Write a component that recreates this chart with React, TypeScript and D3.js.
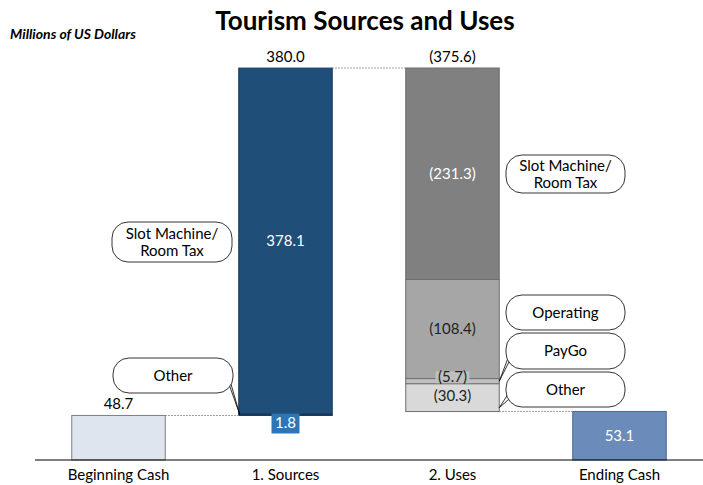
import * as d3 from 'd3';
import React, { useEffect, useRef } from 'react';

const categories = ['Beginning Cash', '1. Sources', '2. Uses', 'Ending Cash'];
const beginningCash = 48.7;
const sourceNames = ['Other', 'Slot Machine/ Room Tax'];
const sourceValues = [1.8, 378.1];
const sourcesTotal = 380.0;
const useNames = ['Slot Machine/ Room Tax', 'Operating', 'PayGo', 'Other'];
const useValues = [231.3, 108.4, 5.7, 30.3];
const usesTotal = 375.6;
const endingCash = 53.1;

const FONT = 'Lato, "Open Sans", sans-serif';

export default function App() {
  const svgRef = useRef<SVGSVGElement>(null);
  const width = 703;
  const height = 485;

  useEffect(() => {
    const svg = d3.select(svgRef.current);
    svg.selectAll('*').remove();

    const peak = beginningCash + sourcesTotal;

    const x = d3.scaleBand().domain(categories).range([35, 703]).padding(0);
    const barW = x.bandwidth() * 0.56;
    const y = d3.scaleLinear().domain([0, peak]).range([460, 68]);
    const cx = (c: string) => (x(c) as number) + x.bandwidth() / 2;

    // title
    svg.append('text').attr('x', 365).attr('y', 30).attr('text-anchor', 'middle')
      .attr('font-family', FONT).attr('font-weight', 'bold').attr('font-size', 26)
      .text('Tourism Sources and Uses');
    svg.append('text').attr('x', 10).attr('y', 39)
      .attr('font-family', FONT).attr('font-weight', 'bold').attr('font-style', 'italic')
      .attr('font-size', 14).text('Millions of US Dollars');

    // beginning cash
    const bx = cx(categories[0]) - barW / 2;
    svg.append('rect').attr('x', bx).attr('y', y(beginningCash)).attr('width', barW)
      .attr('height', y(0) - y(beginningCash)).attr('fill', '#DEE5EF').attr('stroke', '#7f7f7f');
    svg.append('text').attr('x', cx(categories[0])).attr('y', y(beginningCash) - 6)
      .attr('text-anchor', 'middle').attr('font-family', FONT).attr('font-size', 15)
      .text(beginningCash.toFixed(1));

    // sources stacked
    const sx = cx(categories[1]) - barW / 2;
    let base = beginningCash;
    const srcColors = ['#1a3f63', '#1F4E79'];
    sourceValues.forEach((v, i) => {
      svg.append('rect').attr('x', sx).attr('y', y(base + v)).attr('width', barW)
        .attr('height', y(base) - y(base + v)).attr('fill', srcColors[i])
        .attr('stroke', '#163a5c').attr('stroke-width', 1);
      base += v;
    });
    svg.append('text').attr('x', cx(categories[1])).attr('y', y(peak) - 6)
      .attr('text-anchor', 'middle').attr('font-family', FONT).attr('font-size', 15)
      .text(sourcesTotal.toFixed(1));
    svg.append('text').attr('x', cx(categories[1]))
      .attr('y', (y(beginningCash + sourceValues[0]) + y(peak)) / 2 + 5)
      .attr('text-anchor', 'middle').attr('font-family', FONT).attr('font-size', 15)
      .attr('fill', '#fff').text(sourceValues[1].toFixed(1));
    svg.append('rect').attr('x', cx(categories[1]) - 14).attr('y', y(beginningCash) - 2)
      .attr('width', 28).attr('height', 20).attr('fill', '#2E75B6');
    svg.append('text').attr('x', cx(categories[1])).attr('y', y(beginningCash) + 13)
      .attr('text-anchor', 'middle').attr('font-family', FONT).attr('font-size', 15)
      .attr('fill', '#fff').text(sourceValues[0].toFixed(1));

    // uses stacked downwards
    const ux = cx(categories[2]) - barW / 2;
    const useColors = ['#808080', '#A6A6A6', '#BFBFBF', '#D9D9D9'];
    const useText = ['#fff', '#222', '#222', '#222'];
    let top = peak;
    const useMid: number[] = [];
    useValues.forEach((v, i) => {
      svg.append('rect').attr('x', ux).attr('y', y(top)).attr('width', barW)
        .attr('height', y(top - v) - y(top)).attr('fill', useColors[i])
        .attr('stroke', '#6f6f6f').attr('stroke-width', 1);
      useMid.push((y(top) + y(top - v)) / 2);
      top -= v;
    });
    useValues.forEach((v, i) => {
      const ty = i === 2 ? useMid[i] + 1 : i === 3 ? useMid[i] + 3 : useMid[i] + 5;
      if (i === 2) {
        svg.append('rect').attr('x', cx(categories[2]) - 17).attr('y', ty - 11)
          .attr('width', 34).attr('height', 12).attr('fill', '#BFBFBF');
      }
      svg.append('text').attr('x', cx(categories[2])).attr('y', ty)
        .attr('text-anchor', 'middle').attr('font-family', FONT).attr('font-size', 15)
        .attr('fill', useText[i]).text(`(${v.toFixed(1)})`);
    });
    svg.append('text').attr('x', cx(categories[2])).attr('y', y(peak) - 6)
      .attr('text-anchor', 'middle').attr('font-family', FONT).attr('font-size', 15)
      .text(`(${usesTotal.toFixed(1)})`);

    // ending cash
    const ex = cx(categories[3]) - barW / 2;
    svg.append('rect').attr('x', ex).attr('y', y(endingCash)).attr('width', barW)
      .attr('height', y(0) - y(endingCash)).attr('fill', '#6B8CBB').attr('stroke', '#4a6a96');
    svg.append('text').attr('x', cx(categories[3])).attr('y', (y(endingCash) + y(0)) / 2 + 5)
      .attr('text-anchor', 'middle').attr('font-family', FONT).attr('font-size', 15)
      .attr('fill', '#fff').text(endingCash.toFixed(1));

    // connectors
    const dotted = (x1: number, x2: number, yy: number) =>
      svg.append('line').attr('x1', x1).attr('x2', x2).attr('y1', yy).attr('y2', yy)
        .attr('stroke', '#7f7f7f').attr('stroke-dasharray', '1.5,1.5');
    dotted(bx + barW, sx, y(beginningCash));
    dotted(sx + barW, ux, y(peak));
    dotted(ux + barW, ex, y(endingCash));

    // axis
    svg.append('line').attr('x1', 35).attr('x2', 703).attr('y1', y(0)).attr('y2', y(0))
      .attr('stroke', '#000');
    categories.forEach((c) => {
      svg.append('text').attr('x', cx(c)).attr('y', y(0) + 20).attr('text-anchor', 'middle')
        .attr('font-family', FONT).attr('font-size', 15).text(c);
    });

    // callouts
    const callout = (x0: number, y0: number, w: number, h: number, lines: string[], tx?: number, ty?: number, side?: 'l' | 'r') => {
      const g = svg.append('g');
      if (tx !== undefined && ty !== undefined) {
        const ax = side === 'r' ? x0 + w - 4 : x0 + 4;
        g.append('path')
          .attr('d', `M${ax},${y0 + h * 0.55}L${tx},${ty}L${ax},${y0 + h * 0.75}`)
          .attr('fill', '#fff').attr('stroke', '#000').attr('stroke-width', 0.8);
      }
      g.append('rect').attr('x', x0).attr('y', y0).attr('width', w).attr('height', h)
        .attr('rx', 16).attr('ry', 16).attr('fill', '#fff').attr('stroke', '#000')
        .attr('stroke-width', 0.8);
      lines.forEach((l, i) => {
        g.append('text').attr('x', x0 + w / 2)
          .attr('y', y0 + h / 2 + 5 + (i - (lines.length - 1) / 2) * 17)
          .attr('text-anchor', 'middle').attr('font-family', FONT).attr('font-size', 15)
          .text(l);
      });
    };
    callout(112, 222, 120, 40, ['Slot Machine/', 'Room Tax']);
    callout(113, 358, 120, 35, [sourceNames[0]], sx + 1, y(beginningCash) - 1, 'r');
    callout(506, 155, 119, 38, ['Slot Machine/', 'Room Tax']);
    callout(506, 295, 119, 35, [useNames[1]]);
    callout(506, 333, 119, 36, [useNames[2]], ux + barW, useMid[2], 'l');
    callout(506, 372, 119, 35, [useNames[3]], ux + barW, useMid[3] + 10, 'l');
  }, []);

  return <svg ref={svgRef} width={width} height={height} style={{ display: 'block', position: 'absolute', left: 0, top: 0 }} />;
}
